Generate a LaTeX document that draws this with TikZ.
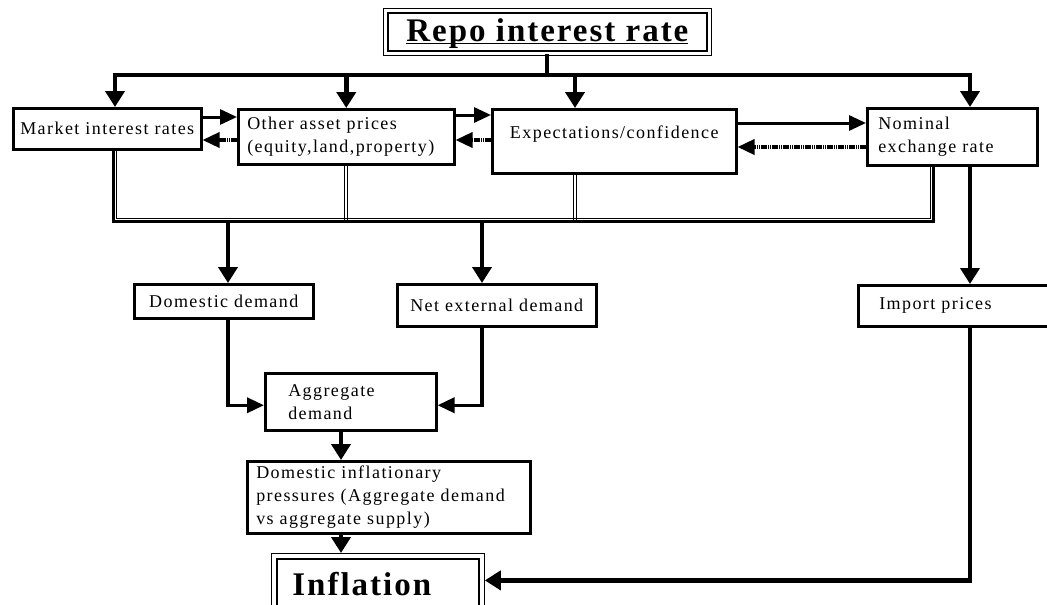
\documentclass[tikz,border=0pt]{standalone}
\usepackage{fontspec}
\setmainfont{Liberation Serif}
\newfontfamily\boxfont[LetterSpace=8]{Liberation Serif}
\newfontfamily\headfont[LetterSpace=6]{Liberation Serif}
\usetikzlibrary{arrows.meta}

\begin{document}
\begin{tikzpicture}
  [
    x=1pt, y=-1pt,
    box/.style={draw, line width=2.5pt, anchor=north west, inner sep=0pt,
      font=\boxfont\fontsize{18}{23}\selectfont},
    headbox/.style={draw, line width=0.8pt, anchor=north west, inner sep=0pt,
      font=\headfont\bfseries\fontsize{33}{38}\selectfont},
    trunk/.style={line width=4pt, line cap=rect},
    down/.style={line width=4.5pt, -{Triangle[width=19pt,length=16pt]}},
    flow/.style={line width=3.5pt, -{Triangle[width=15pt,length=17pt]}},
    link/.style={line width=3pt, -{Triangle[width=15pt,length=17pt]}},
    back/.style={link, line width=3.5pt, dash pattern=on 1.6pt off 0.6pt},
    wire/.style={line width=0.8pt}
  ]

  \useasboundingbox (0,0) rectangle (1047,605);
  \clip (0,0) rectangle (1047,605);

  % policy rate
  \node[headbox, minimum width=328pt, minimum height=47pt] (repo) at (383,8)
    {\underline{\smash{Repo interest rate}\vphantom{R}}};
  \draw[line width=2.5pt] ([shift={(5pt,-5pt)}]repo.north west) rectangle ([shift={(-5pt,5pt)}]repo.south east);

  % channels
  \node[box, minimum width=188pt, minimum height=41pt, text width=184pt, align=center] (market) at (12,107) {Market interest rates};
  \node[box, minimum width=216pt, minimum height=55pt, text width=198pt, align=left] (asset) at (237,108) {Other asset prices\\(equity,land,property)};
  \node[box, minimum width=244pt, minimum height=64pt, text depth=18pt] (expect) at (491,108) {Expectations/confidence};
  \node[box, minimum width=170pt, minimum height=57pt, text width=148pt, align=left] (nominal) at (866,107) {Nominal\\exchange rate};

  % demand side
  \node[box, minimum width=179pt, minimum height=34pt] (domestic) at (133,283) {Domestic demand};
  \node[box, minimum width=199pt, minimum height=42pt] (external) at (396,283) {Net external demand};
  \node[box, minimum width=210pt, minimum height=41pt, text width=168pt, align=left] (import) at (857,284) {Import prices};
  \node[box, minimum width=171pt, minimum height=57pt, text width=125pt, align=left] (aggregate) at (264,372) {Aggregate\\demand};
  \node[box, minimum width=283pt, minimum height=72pt, text width=265pt, align=left] (pressure) at (246,460) {Domestic inflationary\\pressures (Aggregate demand\\vs aggregate supply)};

  % target
  \node[headbox, minimum width=213pt, minimum height=62pt, text width=171pt, align=left] (inflation) at (271,553) {Inflation};
  \draw[line width=2.5pt] ([shift={(6pt,-6pt)}]inflation.north west) rectangle ([shift={(-6pt,6pt)}]inflation.south east);

  % top tree
  \coordinate (topL) at (115,75);
  \coordinate (topR) at (970,75);
  \coordinate (tapE) at (575,75);
  \draw[trunk] (repo.south) -- (repo.south |- topL);
  \draw[trunk] (topL) -- (topR);
  \draw[down] (topL) -- (topL |- market.north);
  \draw[down] (asset.north |- topL) -- (asset.north);
  \draw[down] (tapE) -- (tapE |- expect.north);
  \draw[down] (topR) -- (topR |- nominal.north);

  % links between channels
  \draw[link] ([yshift=-10pt]market.north east) -- ([yshift=-10pt]market.north east -| asset.west);
  \draw[back] ([yshift=-32pt]asset.north west) -- ([yshift=-32pt]asset.north west -| market.east);
  \draw[link] ([yshift=-7pt]asset.north east) -- ([yshift=-7pt]asset.north east -| expect.west);
  \draw[back] ([yshift=-32pt]expect.north west) -- ([yshift=-32pt]expect.north west -| asset.east);
  \draw[link] ([yshift=-15pt]expect.north east) -- ([yshift=-15pt]expect.north east -| nominal.west);
  \draw[back] ([yshift=-40pt]nominal.north west) -- ([yshift=-40pt]nominal.north west -| expect.east);

  % collecting bus
  \coordinate (busL) at (115,220);
  \coordinate (busR) at (932,220);
  \draw[wire, double, double distance=2pt] (asset.south) -- (asset.south |- busL);
  \draw[wire, double, double distance=2pt] (tapE |- expect.south) -- (tapE |- busL);
  \draw[line width=2.5pt] ([xshift=-1.5pt]busL |- market.south) -- ([shift={(-1.5pt,-1.5pt)}]busL)
    -- ([shift={(1.5pt,-1.5pt)}]busR) -- ([xshift=1.5pt]busR |- nominal.south);
  \draw[wire] ([xshift=1.5pt]busL |- market.south) -- ([shift={(1.5pt,1.5pt)}]busL)
    -- ([shift={(-1.5pt,1.5pt)}]busR) -- ([xshift=-1.5pt]busR |- nominal.south);

  % down to inflation
  \coordinate (tapD) at (228,222);
  \coordinate (tapN) at (482,222);
  \coordinate (tapA) at (341,429);
  \draw[down] (tapD) -- (tapD |- domestic.north);
  \draw[down] (tapN) -- (tapN |- external.north);
  \draw[flow] (tapD |- domestic.south) |- ([yshift=-3.5pt]aggregate.west);
  \draw[flow] (tapN |- external.south) |- ([yshift=-3.5pt]aggregate.east);
  \draw[down] (tapA |- aggregate.south) -- (tapA |- pressure.north);
  \draw[down] (tapA |- pressure.south) -- (tapA |- inflation.north);
  \draw[down] (topR |- nominal.south) -- (topR |- import.north);
  \draw[down] (topR |- import.south) |- ([yshift=4pt]inflation.east);
\end{tikzpicture}
\end{document}
